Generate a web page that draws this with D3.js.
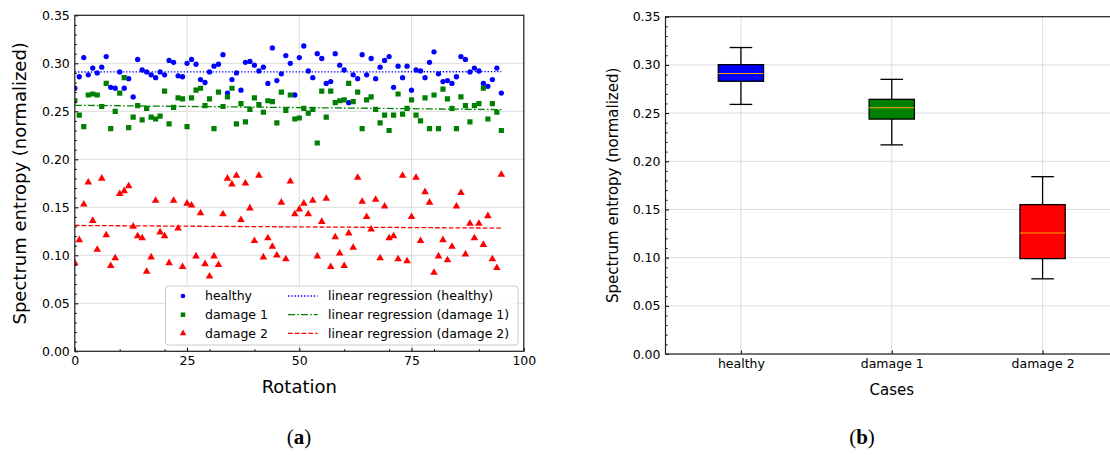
<!DOCTYPE html>
<html>
<head>
<meta charset="utf-8">
<script src="https://cdn.jsdelivr.net/npm/d3@7"></script>
<style>
body{margin:0;background:#fff;}
</style>
</head>
<body>
<script>
// values, one per rotation (0..95)
var healthy = [0.274,0.286,0.306,0.288,0.295,0.290,0.296,0.307,0.275,0.274,
	0.291,0.274,0.284,0.265,0.304,0.293,0.291,0.288,0.285,0.291,
	0.288,0.303,0.301,0.287,0.286,0.300,0.304,0.299,0.283,0.280,
	0.291,0.297,0.299,0.309,0.269,0.283,0.290,0.272,0.301,0.302,
	0.298,0.292,0.296,0.279,0.316,0.282,0.289,0.308,0.300,0.267,
	0.306,0.318,0.292,0.285,0.310,0.305,0.279,0.281,0.310,0.298,
	0.293,0.259,0.288,0.284,0.309,0.288,0.305,0.284,0.296,0.303,
	0.307,0.275,0.297,0.285,0.297,0.272,0.293,0.292,0.285,0.301,
	0.312,0.289,0.281,0.282,0.279,0.286,0.307,0.304,0.291,0.295,
	0.292,0.279,0.276,0.283,0.295,0.269];
var damage1 = [0.261,0.246,0.234,0.267,0.268,0.267,0.255,0.279,0.232,0.250,
	0.269,0.285,0.233,0.244,0.256,0.241,0.253,0.244,0.242,0.245,
	0.271,0.237,0.254,0.264,0.263,0.234,0.264,0.272,0.274,0.256,
	0.263,0.232,0.270,0.255,0.265,0.274,0.237,0.258,0.239,0.252,
	0.264,0.257,0.249,0.261,0.260,0.238,0.270,0.251,0.267,0.242,
	0.243,0.253,0.248,0.252,0.217,0.271,0.244,0.271,0.259,0.261,
	0.262,0.279,0.260,0.270,0.232,0.262,0.265,0.252,0.238,0.246,
	0.230,0.246,0.268,0.247,0.253,0.262,0.246,0.240,0.264,0.232,
	0.267,0.232,0.273,0.263,0.253,0.232,0.265,0.256,0.239,0.256,
	0.258,0.274,0.242,0.258,0.249,0.230];
var damage2 = [0.092,0.116,0.153,0.176,0.136,0.106,0.180,0.121,0.089,0.097,
	0.164,0.167,0.172,0.130,0.120,0.118,0.083,0.098,0.157,0.124,
	0.120,0.092,0.157,0.128,0.088,0.154,0.152,0.099,0.144,0.091,
	0.078,0.099,0.090,0.143,0.180,0.174,0.183,0.137,0.175,0.149,
	0.115,0.183,0.098,0.118,0.109,0.100,0.155,0.096,0.177,0.143,
	0.148,0.154,0.143,0.157,0.099,0.135,0.159,0.088,0.119,0.102,
	0.089,0.123,0.108,0.181,0.156,0.140,0.127,0.158,0.097,0.151,
	0.118,0.120,0.096,0.183,0.094,0.140,0.181,0.115,0.166,0.155,
	0.082,0.099,0.116,0.095,0.109,0.151,0.165,0.101,0.133,0.118,
	0.133,0.111,0.141,0.096,0.087,0.184];

var caseNames = ['healthy', 'damage 1', 'damage 2'];
var regNames = ['linear regression (healthy)', 'linear regression (damage 1)', 'linear regression (damage 2)'];
var caseColors = ['#0000ff', '#008000', '#ff0000'];
var xTicks = [0, 25, 50, 75, 100];
var xMinorTicks = [10, 20, 30, 40, 60, 70, 80, 90];
var yTicks = [0, 0.05, 0.10, 0.15, 0.20, 0.25, 0.30, 0.35];

var series = [healthy, damage1, damage2];
var symbols = [d3.symbolCircle, d3.symbolSquare, d3.symbolTriangle];
var symbolSizes = [22, 27, 25];
var regDash = ['1.4,1.8', '7,2.2,1.6,2.2', '4.6,2.2'];
var font = '"DejaVu Sans", sans-serif';
var gridColor = '#dcdcdc';

var svg = d3.select('body').append('svg')
	.attr('width', 1110)
	.attr('height', 455)
	.style('display', 'block')
	.style('background', '#fff');

//minor tick positions every 0.01 (not on the majors)
var yMinorTicks = d3.range(1, 35).filter(function(k){return k % 5 != 0}).map(function(k){return k/100});

function styleAxis(g){
	g.select('.domain').remove();
	g.attr('font-family', null).attr('font-size', null);
	g.selectAll('line').attr('stroke', '#000').attr('stroke-width', 1);
	g.selectAll('text')
		.style('font-family', font)
		.style('font-size', '12.5px')
		.attr('fill', '#000');
}

/////////////////////////
// (a) scatter + regressions
/////////////////////////
var xA = d3.scaleLinear().domain([0, 100]).range([74.8, 523.8]);
var yA = d3.scaleLinear().domain([0, 0.35]).range([351.3, 15.3]);
var gA = svg.append('g');

gA.append('defs').append('clipPath').attr('id', 'clipA')
	.append('rect')
		.attr('x', xA(0)).attr('y', yA(0.35))
		.attr('width', xA(100) - xA(0)).attr('height', yA(0) - yA(0.35));

//grid
gA.append('g').selectAll('line').data(xTicks).enter()
	.append('line')
		.attr('x1', function(d){return xA(d)}).attr('x2', function(d){return xA(d)})
		.attr('y1', yA(0)).attr('y2', yA(0.35))
		.attr('stroke', gridColor).attr('stroke-width', 1);
gA.append('g').selectAll('line').data(yTicks).enter()
	.append('line')
		.attr('x1', xA(0)).attr('x2', xA(100))
		.attr('y1', function(d){return yA(d)}).attr('y2', function(d){return yA(d)})
		.attr('stroke', gridColor).attr('stroke-width', 1);

//points
var pts = gA.append('g').attr('clip-path', 'url(#clipA)');
series.forEach(function(s, k){
	pts.selectAll('path.s' + k).data(s).enter()
		.append('path')
			.attr('class', 's' + k)
			.attr('d', d3.symbol().type(symbols[k]).size(symbolSizes[k]))
			.attr('transform', function(d, i){return 'translate(' + xA(i) + ',' + yA(d) + ')'})
			.attr('fill', caseColors[k]);
});

//least squares fit for each case
function linReg(vals){
	var xs = vals.map(function(d, i){return i});
	var mx = d3.mean(xs), my = d3.mean(vals);
	var num = d3.sum(vals, function(d, i){return (i - mx)*(d - my)});
	var den = d3.sum(xs, function(x){return (x - mx)*(x - mx)});
	var b = num/den;
	return [[0, my - b*mx], [vals.length - 1, my + b*(vals.length - 1 - mx)]];
}
var line = d3.line().x(function(d){return xA(d[0])}).y(function(d){return yA(d[1])});
series.forEach(function(s, k){
	gA.append('path')
		.attr('d', line(linReg(s)))
		.attr('fill', 'none')
		.attr('stroke', caseColors[k])
		.attr('stroke-width', 1.3)
		.attr('stroke-dasharray', regDash[k]);
});

//axes, ticks pointing in
gA.append('g').attr('transform', 'translate(0,' + yA(0) + ')')
	.call(d3.axisBottom(xA).tickValues(xTicks).tickSize(-3.5).tickPadding(5).tickFormat(d3.format('d')))
	.call(styleAxis);
gA.append('g').attr('transform', 'translate(0,' + yA(0) + ')')
	.call(d3.axisBottom(xA).tickValues(xMinorTicks).tickSize(-2).tickFormat(''))
	.call(styleAxis);
gA.append('g').attr('transform', 'translate(' + xA(0) + ',0)')
	.call(d3.axisLeft(yA).tickValues(yTicks).tickSize(-3.5).tickPadding(5).tickFormat(d3.format('.2f')))
	.call(styleAxis);
gA.append('g').attr('transform', 'translate(' + xA(0) + ',0)')
	.call(d3.axisLeft(yA).tickValues(yMinorTicks).tickSize(-2).tickFormat(''))
	.call(styleAxis);

gA.append('rect')
	.attr('x', xA(0)).attr('y', yA(0.35))
	.attr('width', xA(100) - xA(0)).attr('height', yA(0) - yA(0.35))
	.attr('fill', 'none').attr('stroke', '#222').attr('stroke-width', 1.2);

//legend (lower right)
var leg = gA.append('g').attr('transform', 'translate(165.5,286)');
leg.append('rect')
	.attr('width', 352.5).attr('height', 59).attr('rx', 3)
	.attr('fill', '#fff').attr('fill-opacity', 0.85)
	.attr('stroke', '#cccccc').attr('stroke-width', 1);
caseNames.forEach(function(name, k){
	var yy = 10 + k*18.7;
	leg.append('path')
		.attr('d', d3.symbol().type(symbols[k]).size(symbolSizes[k]*0.75))
		.attr('transform', 'translate(17.5,' + yy + ')')
		.attr('fill', caseColors[k]);
	leg.append('text')
		.attr('x', 39.5).attr('y', yy).attr('dy', '0.35em')
		.style('font-family', font).style('font-size', '12.5px')
		.text(name);
	leg.append('line')
		.attr('x1', 122.5).attr('x2', 152).attr('y1', yy).attr('y2', yy)
		.attr('stroke', caseColors[k]).attr('stroke-width', 1.3)
		.attr('stroke-dasharray', regDash[k]);
	leg.append('text')
		.attr('x', 162.5).attr('y', yy).attr('dy', '0.35em')
		.style('font-family', font).style('font-size', '12.5px')
		.text(regNames[k]);
});

gA.append('text')
	.attr('x', (xA(0) + xA(100))/2).attr('y', 387).attr('dy', '0.35em')
	.attr('text-anchor', 'middle')
	.style('font-family', font).style('font-size', '18px')
	.text('Rotation');
gA.append('text')
	.attr('transform', 'translate(20,' + (yA(0) + yA(0.35))/2 + ') rotate(-90)')
	.attr('dy', '0.35em')
	.attr('text-anchor', 'middle')
	.style('font-family', font).style('font-size', '18px')
	.text('Spectrum entropy (normalized)');

/////////////////////////
// (b) box plots
/////////////////////////
var xB = d3.scaleLinear().domain([0.5, 3.5]).range([665.5, 1118]);
var yB = d3.scaleLinear().domain([0, 0.35]).range([354, 16.7]);
var gB = svg.append('g');

gB.append('g').selectAll('line').data([1, 2, 3]).enter()
	.append('line')
		.attr('x1', function(d){return xB(d)}).attr('x2', function(d){return xB(d)})
		.attr('y1', yB(0)).attr('y2', yB(0.35))
		.attr('stroke', gridColor).attr('stroke-width', 1);
gB.append('g').selectAll('line').data(yTicks).enter()
	.append('line')
		.attr('x1', xB(0.5)).attr('x2', xB(3.5))
		.attr('y1', function(d){return yB(d)}).attr('y2', function(d){return yB(d)})
		.attr('stroke', gridColor).attr('stroke-width', 1);

//quartiles and 1.5 IQR whiskers like matplotlib
function boxStats(vals){
	var s = vals.slice().sort(d3.ascending);
	var q1 = d3.quantileSorted(s, 0.25), med = d3.quantileSorted(s, 0.5), q3 = d3.quantileSorted(s, 0.75);
	var iqr = q3 - q1;
	var lo = d3.min(s.filter(function(d){return d >= q1 - 1.5*iqr}));
	var hi = d3.max(s.filter(function(d){return d <= q3 + 1.5*iqr}));
	return {q1: q1, med: med, q3: q3, lo: lo, hi: hi};
}
var boxW = 0.3, capW = 0.15;
series.forEach(function(s, k){
	var st = boxStats(s);
	var p = k + 1;
	var bx = gB.append('g');
	bx.append('line')
		.attr('x1', xB(p)).attr('x2', xB(p)).attr('y1', yB(st.q3)).attr('y2', yB(st.hi))
		.attr('stroke', '#000').attr('stroke-width', 1.3);
	bx.append('line')
		.attr('x1', xB(p)).attr('x2', xB(p)).attr('y1', yB(st.q1)).attr('y2', yB(st.lo))
		.attr('stroke', '#000').attr('stroke-width', 1.3);
	[st.lo, st.hi].forEach(function(v){
		bx.append('line')
			.attr('x1', xB(p - capW/2)).attr('x2', xB(p + capW/2)).attr('y1', yB(v)).attr('y2', yB(v))
			.attr('stroke', '#000').attr('stroke-width', 1.3);
	});
	bx.append('rect')
		.attr('x', xB(p - boxW/2)).attr('y', yB(st.q3))
		.attr('width', xB(p + boxW/2) - xB(p - boxW/2)).attr('height', yB(st.q1) - yB(st.q3))
		.attr('fill', caseColors[k]).attr('stroke', '#000').attr('stroke-width', 1.3);
	bx.append('line')
		.attr('x1', xB(p - boxW/2)).attr('x2', xB(p + boxW/2)).attr('y1', yB(st.med)).attr('y2', yB(st.med))
		.attr('stroke', '#ffa500').attr('stroke-width', 1.1);
});

gB.append('g').attr('transform', 'translate(0,' + yB(0) + ')')
	.call(d3.axisBottom(xB).tickValues([1, 2, 3]).tickSize(-3.5).tickPadding(5)
		.tickFormat(function(d){return caseNames[d - 1]}))
	.call(styleAxis);
gB.append('g').attr('transform', 'translate(' + xB(0.5) + ',0)')
	.call(d3.axisLeft(yB).tickValues(yTicks).tickSize(-3.5).tickPadding(5).tickFormat(d3.format('.2f')))
	.call(styleAxis);
gB.append('g').attr('transform', 'translate(' + xB(0.5) + ',0)')
	.call(d3.axisLeft(yB).tickValues(yMinorTicks).tickSize(-2).tickFormat(''))
	.call(styleAxis);

gB.append('rect')
	.attr('x', xB(0.5)).attr('y', yB(0.35))
	.attr('width', xB(3.5) - xB(0.5)).attr('height', yB(0) - yB(0.35))
	.attr('fill', 'none').attr('stroke', '#222').attr('stroke-width', 1.2);

gB.append('text')
	.attr('x', (xB(0.5) + xB(3.5))/2).attr('y', 390).attr('dy', '0.35em')
	.attr('text-anchor', 'middle')
	.style('font-family', font).style('font-size', '15px')
	.text('Cases');
gB.append('text')
	.attr('transform', 'translate(612.5,' + (yB(0) + yB(0.35))/2 + ') rotate(-90)')
	.attr('dy', '0.35em')
	.attr('text-anchor', 'middle')
	.style('font-family', font).style('font-size', '15px')
	.text('Spectrum entropy (normalized)');

//panel captions
[['a', 299], ['b', 862]].forEach(function(c){
	var t = svg.append('text')
		.attr('x', c[1]).attr('y', 437).attr('dy', '0.35em')
		.attr('text-anchor', 'middle')
		.style('font-family', '"Liberation Serif", "DejaVu Serif", serif')
		.style('font-size', '21px');
	t.append('tspan').text('(');
	t.append('tspan').style('font-weight', 'bold').text(c[0]);
	t.append('tspan').text(')');
});
</script>
</body>
</html>
